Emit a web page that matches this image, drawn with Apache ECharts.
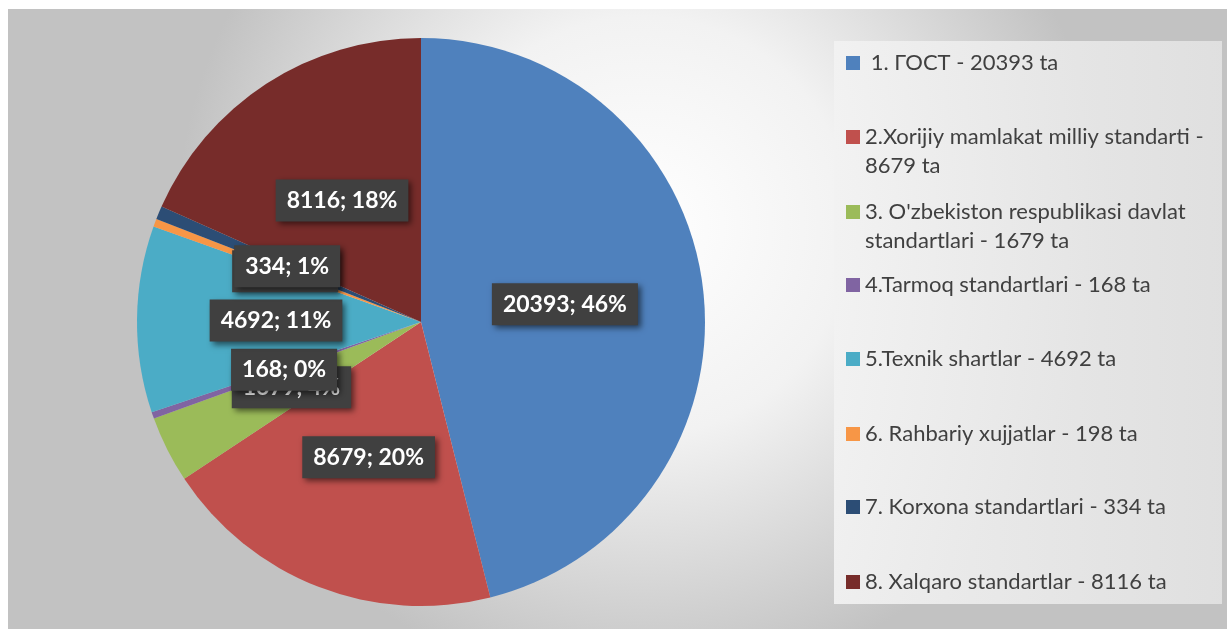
<!DOCTYPE html>
<html>
<head>
<meta charset="utf-8">
<script src="https://cdn.jsdelivr.net/npm/echarts@6/dist/echarts.min.js"></script>
<style>
html,body{margin:0;padding:0;background:#fff;}
#chart{position:absolute;left:0;top:0;width:1227px;height:629px;}
</style>
</head>
<body>
<div id="chart"></div>
<script>
// ---- data ----
const categories = [
  '1. ГОСТ',
  '2.Xorijiy mamlakat milliy standarti',
  "3. O'zbekiston respublikasi davlat standartlari",
  '4.Tarmoq standartlari',
  '5.Texnik shartlar',
  '6. Rahbariy xujjatlar',
  '7. Korxona standartlari',
  '8. Xalqaro standartlar'
];
const values = [20393, 8679, 1679, 168, 4692, 198, 334, 8116];
const legendLabels = [
  ' 1. ГОСТ - 20393 ta',
  '2.Xorijiy mamlakat milliy standarti -\n8679 ta',
  "3. O'zbekiston respublikasi davlat\nstandartlari - 1679 ta",
  '4.Tarmoq standartlari - 168 ta',
  '5.Texnik shartlar - 4692 ta',
  '6. Rahbariy xujjatlar - 198 ta',
  '7. Korxona standartlari - 334 ta',
  '8. Xalqaro standartlar - 8116 ta'
];
const colors = ['#4F81BD','#C0504D','#9BBB59','#8064A2','#4BACC6','#F79646','#2C4D75','#772C2A'];

// ---- layout ----
const legendTops = [48.5, 93.5, 168.5, 270.5, 344.5, 419.5, 492.5, 567.5];
const LH = 29;

const chart = echarts.init(document.getElementById('chart'), null, {renderer:'canvas'});

const legends = legendLabels.map((lab, i) => {
  const multi = lab.indexOf('\n') >= 0;
  return {
    data: [lab],
    left: 846,
    top: legendTops[i],
    orient: 'vertical',
    padding: 0,
    icon: 'rect',
    itemWidth: 14,
    itemHeight: 14,
    itemGap: 0,
    selectedMode: false,
    // blank leading line keeps the icon level with the first text line
    formatter: multi ? (n) => '\n' + n : (n) => n,
    textStyle: {
      fontFamily: 'Lato',
      fontSize: 22,
      color: '#404040',
      lineHeight: LH
    }
  };
});

chart.setOption({
  animation: false,
  color: colors,
  graphic: [
    {
      type: 'rect', z: -10, silent: true,
      shape: {x: 8, y: 9, width: 1219, height: 620},
      style: {
        fill: new echarts.graphic.RadialGradient(0.52, 0.35, 0.75, [
          {offset: 0, color: '#ffffff'},
          {offset: 0.45, color: '#f2f2f2'},
          {offset: 1, color: '#c2c2c2'}
        ])
      }
    },
    {
      type: 'rect', z: -9, silent: true,
      shape: {x: 834, y: 41, width: 388, height: 563},
      style: {
        fill: new echarts.graphic.LinearGradient(0, 0, 1, 0, [
          {offset: 0, color: 'rgba(242,242,242,0.92)'},
          {offset: 1, color: 'rgba(226,226,226,0.92)'}
        ])
      }
    }
  ],
  legend: legends,
  series: [{
    type: 'pie',
    center: [421, 322],
    radius: [0, 284],
    startAngle: 90,
    clockwise: true,
    percentPrecision: 0,
    avoidLabelOverlap: false,
    labelLayout: {hideOverlap: false},
    labelLine: {show: false},
    itemStyle: {borderWidth: 0},
    label: {
      show: true,
      position: 'inside',
      formatter: '{c}; {d}%',
      fontFamily: 'Lato',
      fontWeight: 'bold',
      fontSize: 23,
      lineHeight: 28,
      color: '#ffffff',
      backgroundColor: '#404040',
      padding: [7, 11],
      shadowColor: 'rgba(0,0,0,0.55)',
      shadowBlur: 6,
      shadowOffsetX: 3,
      shadowOffsetY: 3,
      textBorderWidth: 0
    },
    emphasis: {disabled: true},
    data: values.map((v, i) => ({name: legendLabels[i], value: v}))
  }]
});
</script>
</body>
</html>
